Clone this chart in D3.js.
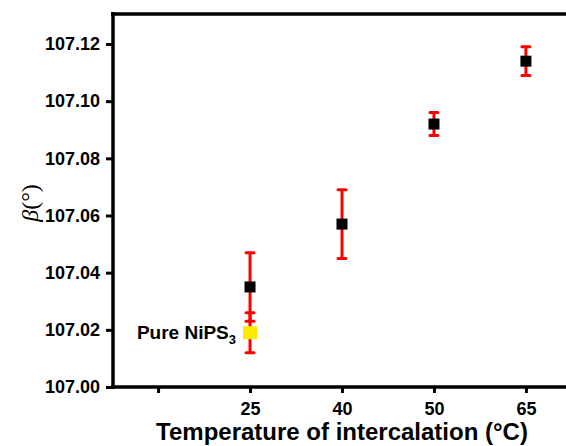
<!DOCTYPE html>
<html>
<head>
<meta charset="utf-8">
<script src="https://cdn.jsdelivr.net/npm/d3@7"></script>
<style>
  body { margin: 0; background: #fff; }
  text { font-family: Arial, "Liberation Sans", sans-serif; font-weight: bold; }
</style>
</head>
<body>
<div id="chart"></div>
<script>
// categories on the x axis (first slot is empty)
const xTickLabels = ["", "25", "40", "50", "65"];
// intercalated samples
const temps = ["25", "40", "50", "65"];
const beta = [107.035, 107.057, 107.092, 107.114];
const betaErr = [0.012, 0.012, 0.004, 0.005];
// pure NiPS3 reference
const pureTemp = "25";
const pureBeta = 107.019;
const pureErr = 0.007;
const yTicks = [107.00, 107.02, 107.04, 107.06, 107.08, 107.10, 107.12];

const width = 566, height = 446;
const margin = { top: 14, right: -5, bottom: 59, left: 113 };

const svg = d3.select("#chart").append("svg")
  .attr("width", width)
  .attr("height", height);

const x = d3.scalePoint()
  .domain(xTickLabels)
  .range([margin.left, width - margin.right])
  .padding(0.49);

const y = d3.scaleLinear()
  .domain([107.00, 107.1305])
  .range([height - margin.bottom, margin.top]);

// top frame line
svg.append("line")
  .attr("x1", margin.left - 2).attr("x2", width)
  .attr("y1", margin.top).attr("y2", margin.top)
  .attr("stroke", "black").attr("stroke-width", 3.5);

// x axis
const xAxis = svg.append("g")
  .attr("transform", `translate(0,${height - margin.bottom})`)
  .call(d3.axisBottom(x).tickSize(6).tickPadding(9));
xAxis.select(".domain").attr("stroke-width", 3.5)
  .attr("d", `M${margin.left - 2},0H${width}`);
xAxis.selectAll(".tick line").attr("stroke-width", 3);
xAxis.selectAll(".tick text").style("font-size", "18px");

// y axis
const yAxis = svg.append("g")
  .attr("transform", `translate(${margin.left},0)`)
  .call(d3.axisLeft(y).tickValues(yTicks).tickFormat(d3.format(".2f")).tickSize(7).tickPadding(6));
yAxis.select(".domain").attr("stroke-width", 3.5)
  .attr("d", `M0,${height - margin.bottom + 2}V${margin.top - 2}`);
yAxis.selectAll(".tick line").attr("stroke-width", 3);
yAxis.selectAll(".tick text").style("font-size", "18px");

// error bars
function errorBar(g, cx, v, e) {
  const cap = 4;
  g.append("line")
    .attr("x1", cx).attr("x2", cx)
    .attr("y1", y(v + e)).attr("y2", y(v - e))
    .attr("stroke", "red").attr("stroke-width", 3);
  [v + e, v - e].forEach(c => {
    g.append("line")
      .attr("x1", cx - cap).attr("x2", cx + cap)
      .attr("y1", y(c)).attr("y2", y(c))
      .attr("stroke", "red").attr("stroke-width", 3)
      .attr("stroke-linecap", "round");
  });
}

const marks = svg.append("g");
temps.forEach((t, i) => errorBar(marks, x(t), beta[i], betaErr[i]));

marks.selectAll("rect.sample")
  .data(temps)
  .join("rect")
  .attr("class", "sample")
  .attr("x", d => x(d) - 5.5)
  .attr("y", (d, i) => y(beta[i]) - 5.5)
  .attr("width", 11).attr("height", 11)
  .attr("fill", "black");

errorBar(marks, x(pureTemp), pureBeta, pureErr);
marks.append("rect")
  .attr("x", x(pureTemp) - 7)
  .attr("y", y(pureBeta) - 6.5)
  .attr("width", 14).attr("height", 13)
  .attr("fill", "#ffea00");

// label for pure sample
const lab = svg.append("text")
  .attr("x", x(pureTemp) - 14)
  .attr("y", y(pureBeta) + 6)
  .attr("text-anchor", "end")
  .style("font-size", "19px");
lab.append("tspan").text("Pure NiPS");
lab.append("tspan").style("font-size", "13px").attr("dy", 5).text("3");

// axis titles
svg.append("text")
  .attr("x", 342).attr("y", 440)
  .attr("text-anchor", "middle")
  .style("font-size", "24px")
  .text("Temperature of intercalation (°C)");

const yl = svg.append("text")
  .attr("transform", "translate(38,203) rotate(-90)")
  .attr("text-anchor", "middle")
  .style("font-family", "'Times New Roman', 'Liberation Serif', serif")
  .style("font-weight", "normal")
  .style("font-size", "24px");
yl.append("tspan").style("font-style", "italic").text("β");
yl.append("tspan").text("(°)");
</script>
</body>
</html>
